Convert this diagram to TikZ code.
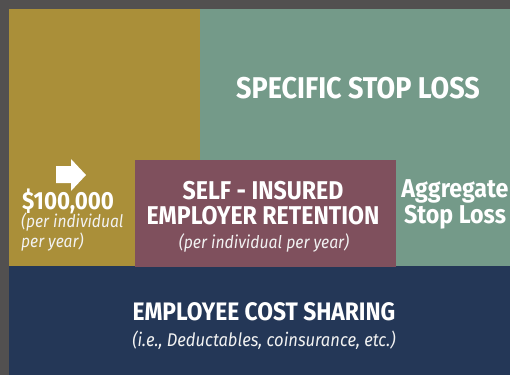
\documentclass[tikz,border=0pt]{standalone}
\usepackage{fontspec}
\newfontfamily\hdfont{Fira Sans}[FakeStretch=0.9,UprightFont=* Bold]
\newfontfamily\itfont{Fira Sans}[FakeStretch=0.9,UprightFont=* Italic]
\definecolor{bgGray}{HTML}{525050}
\definecolor{goldC}{HTML}{AA8F39}
\definecolor{greenC}{HTML}{749A89}
\definecolor{maroonC}{HTML}{7F505D}
\definecolor{navyC}{HTML}{243757}
\definecolor{softW}{HTML}{F2F2F2}
\tikzset{
  hd/.style={text=white, font=\hdfont\fontsize{#1}{#1}\selectfont, inner sep=0pt, anchor=base},
  it/.style={text=softW, font=\itfont\fontsize{#1}{#1}\selectfont, inner sep=0pt, anchor=base},
}
\begin{document}
\begin{tikzpicture}[x=1pt,y=-1pt]
\fill[bgGray] (0,0) rectangle (510,375);
\useasboundingbox (0,0) rectangle (510,375);
\fill[goldC] (9,9) rectangle (200,266);
\fill[greenC] (200,9) rectangle (510,266);
\fill[navyC] (9,266) rectangle (510,375);
\fill[maroonC] (135,160) rectangle (396,267);
\fill[white] (56,166) -- (71,166) -- (71,159) -- (86,175) -- (71,191) -- (71,183) -- (56,183) -- cycle;
\node[hd=24.8, anchor=base west, text depth=0pt] (amt) at (22,209) {\$100,000};
\node[text=softW, font=\itfont\fontsize{17.3}{15.5}\selectfont, inner sep=0pt, align=left, anchor=base west] (amt1) at (21,247) {(per individual\\per year)};
\node[hd=30] (ssl) at (358,98) {SPECIFIC STOP LOSS};
\node[hd=25.7] (sir1) at (263,199) {SELF - INSURED};
\node[hd=25.7] (sir2) at (263,224) {EMPLOYER RETENTION};
\node[it=17.5] (sir3) at (264,248) {(per individual per year)};
\node[hd=25.8] (agg1) at (455,197) {Aggregate};
\node[hd=25.8] (agg2) at (455,223) {Stop Loss};
\node[hd=25.3] (ecs1) at (264,320) {EMPLOYEE COST SHARING};
\node[it=18.4] (ecs2) at (264,346) {(i.e., Deductables, coinsurance, etc.)};
\end{tikzpicture}
\end{document}
